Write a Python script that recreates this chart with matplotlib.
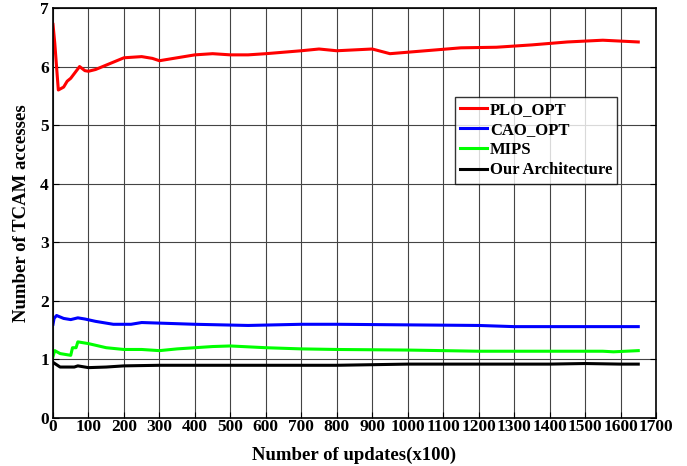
import matplotlib
matplotlib.use('Agg')
import matplotlib.pyplot as plt

# values
updates_plo = [0, 5, 15, 30, 40, 50, 60, 75, 90, 100, 120, 160, 200, 250, 280, 300, 350,
               400, 450, 500, 550, 600, 700, 750, 800, 900, 950, 1050, 1150, 1250, 1350,
               1450, 1550, 1650]
plo_opt = [6.72, 6.4, 5.6, 5.65, 5.75, 5.8, 5.88, 6.0, 5.93, 5.92, 5.95, 6.05, 6.15, 6.17,
           6.14, 6.1, 6.15, 6.2, 6.22, 6.2, 6.2, 6.22, 6.27, 6.3, 6.27, 6.3, 6.22, 6.27,
           6.32, 6.33, 6.37, 6.42, 6.45, 6.42]

updates_cao = [0, 3, 10, 30, 50, 70, 90, 120, 170, 220, 250, 300, 400, 550, 700, 800,
               1000, 1200, 1300, 1500, 1650]
cao_opt = [1.6, 1.7, 1.75, 1.7, 1.68, 1.71, 1.69, 1.65, 1.6, 1.6, 1.63, 1.62, 1.6, 1.58,
           1.6, 1.6, 1.59, 1.58, 1.56, 1.56, 1.56]

updates_mips = [0, 5, 20, 50, 55, 65, 70, 100, 150, 200, 250, 300, 350, 450, 500, 600,
                700, 800, 1000, 1200, 1400, 1550, 1580, 1650]
mips = [1.05, 1.15, 1.1, 1.07, 1.2, 1.2, 1.3, 1.27, 1.2, 1.17, 1.17, 1.15, 1.18, 1.22,
        1.23, 1.2, 1.18, 1.17, 1.16, 1.14, 1.14, 1.14, 1.13, 1.15]

updates_ours = [0, 20, 60, 70, 100, 150, 200, 300, 800, 900, 1000, 1400, 1500, 1600, 1650]
ours = [0.95, 0.87, 0.87, 0.89, 0.86, 0.87, 0.89, 0.9, 0.9, 0.91, 0.92, 0.92, 0.93,
        0.92, 0.92]

plt.rcParams['font.family'] = ['Liberation Serif', 'DejaVu Serif']
plt.rcParams['font.weight'] = 'bold'

fig = plt.figure(figsize=(6.87, 4.66), dpi=100)
ax = fig.add_axes([53 / 687, 1 - 418 / 466, (656 - 53) / 687, (418 - 8) / 466])

ax.plot(updates_plo, plo_opt, color='#ff0000', lw=2.2, label='PLO_OPT')
ax.plot(updates_cao, cao_opt, color='#0000ff', lw=2.2, label='CAO_OPT')
ax.plot(updates_mips, mips, color='#00ff00', lw=2.2, label='MIPS')
ax.plot(updates_ours, ours, color='black', lw=2.2, label='Our Architecture')

ax.set_xlim(0, 1700)
ax.set_ylim(0, 7)
ax.set_xticks(range(0, 1701, 100))
ax.set_yticks(range(0, 8))
ax.grid(True, color='#444444', lw=0.8)
ax.tick_params(direction='in', labelsize=12.5, right=True, length=4, pad=1)
ax.tick_params(axis='y', pad=3)
for lbl in ax.get_xticklabels() + ax.get_yticklabels():
    lbl.set_fontweight('bold')
for sp in ax.spines.values():
    sp.set_linewidth(1.2)

ax.set_xlabel('Number of updates(x100)', fontsize=13.5, fontweight='bold', labelpad=8)
ax.set_ylabel('Number of TCAM accesses', fontsize=13.5, fontweight='bold', labelpad=7)

leg = ax.legend(loc='upper left', bbox_to_anchor=(402 / 603, 1 - 89 / 410),
                fontsize=12, frameon=True, fancybox=False, handlelength=1.6,
                handletextpad=0.2, borderpad=0.3, labelspacing=0.25, borderaxespad=0)
leg.get_frame().set_edgecolor('black')
leg.get_frame().set_linewidth(1.0)
for t in leg.get_texts():
    t.set_fontweight('bold')

fig.savefig('out.png', dpi=100)
